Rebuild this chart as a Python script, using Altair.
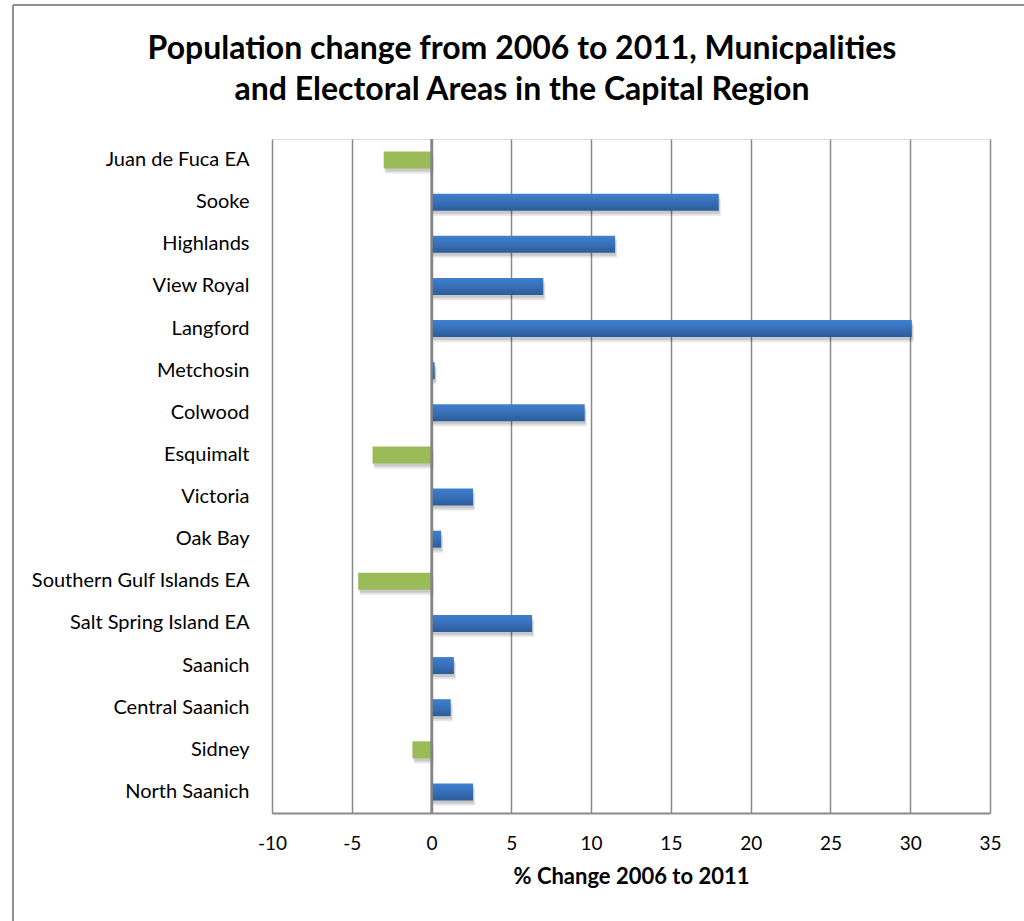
import altair as alt
import pandas as pd

# Municipalities and electoral areas, listed top to bottom
places = [
    "Juan de Fuca EA", "Sooke", "Highlands", "View Royal", "Langford",
    "Metchosin", "Colwood", "Esquimalt", "Victoria", "Oak Bay",
    "Southern Gulf Islands EA", "Salt Spring Island EA", "Saanich",
    "Central Saanich", "Sidney", "North Saanich",
]
# Percent population change, 2006 to 2011
pct_change = [
    -3.0, 18.0, 11.5, 7.0, 30.1,
    0.2, 9.6, -3.7, 2.6, 0.6,
    -4.6, 6.3, 1.4, 1.2, -1.2, 2.6,
]
x_ticks = [-10, -5, 0, 5, 10, 15, 20, 25, 30, 35]
title_lines = [
    "Population change from 2006 to 2011, Municpalities",
    "and Electoral Areas in the Capital Region",
]

df = pd.DataFrame({"place": places, "change": pct_change})

FONT = "Lato"
GRID = "#8a8a8a"
W, H = 718, 674
PAD_L, PAD_T = 272, 139

x_scale = alt.Scale(domain=[-10, 35], nice=False, zero=True)
y_scale = alt.Scale(paddingInner=0.6, paddingOuter=0.3)

x_enc = alt.X(
    "change:Q", scale=x_scale,
    axis=alt.Axis(
        values=x_ticks, title="% Change 2006 to 2011", grid=True,
        gridColor=GRID, gridWidth=1.5, domainColor=GRID, domainWidth=2,
        ticks=False, labelPadding=21, labelFontSize=19, labelFont=FONT,
        labelExpr="'' + datum.value", labelFlush=False,
        labelColor="#000", titleFont=FONT, titleFontSize=22,
        titleFontWeight="bold", titleColor="#000", titlePadding=13,
    ),
)
y_enc = alt.Y(
    "place:N", sort=places, scale=y_scale,
    axis=alt.Axis(
        title=None, domain=False, ticks=False, labelPadding=23,
        labelFontSize=20, labelFont=FONT, labelColor="#000", labelLimit=400,
    ),
)

base = alt.Chart(df)

shadow_far = base.mark_bar(color="#000", opacity=0.10, yOffset=5, xOffset=2, height=17).encode(x=x_enc, y=y_enc)
shadow_near = base.mark_bar(color="#000", opacity=0.12, yOffset=3, xOffset=1, height=17).encode(x=x_enc, y=y_enc)

blue_fill = alt.Gradient(
    gradient="linear", x1=0, x2=0, y1=0, y2=1,
    stops=[
        alt.GradientStop(offset=0, color="#3f80cf"),
        alt.GradientStop(offset=0.5, color="#376fb8"),
        alt.GradientStop(offset=1, color="#2c5c98"),
    ],
)

gains = base.transform_filter("datum.change >= 0").mark_bar(
    color=blue_fill, height=17
).encode(x=x_enc, y=y_enc)

losses = base.transform_filter("datum.change < 0").mark_bar(
    color="#9bbb59", height=17
).encode(x=x_enc, y=y_enc)

zero_line = alt.Chart(alt.Data(values=[{"v": 0}])).mark_rule(
    color="#858585", strokeWidth=2.5
).encode(x=alt.X("v:Q", scale=x_scale))

single = alt.Data(values=[{}])

# Two-line heading, centred over the whole figure
heading = alt.Chart(single).mark_text(
    font=FONT, fontSize=32, fontWeight="bold", color="#000",
    align="center", baseline="alphabetic", lineHeight=41,
).encode(
    x=alt.value(522 - PAD_L), y=alt.value(59 - PAD_T), text=alt.value(title_lines)
)

# Thin frame around the whole figure (left and top edges)
frame_left = alt.Chart(single).mark_rule(color="#8f8f8f", strokeWidth=2).encode(
    x=alt.value(13 - PAD_L), y=alt.value(5 - PAD_T), y2=alt.value(921 - PAD_T + 10)
)
frame_top = alt.Chart(single).mark_rule(color="#8f8f8f", strokeWidth=2).encode(
    y=alt.value(5 - PAD_T), x=alt.value(13 - PAD_L), x2=alt.value(1024 - PAD_L + 10)
)

chart = alt.layer(
    shadow_far, shadow_near, gains, losses, zero_line,
    heading, frame_left, frame_top,
).properties(
    width=W,
    height=H,
    autosize=alt.AutoSizeParams(type="none"),
    padding={"left": PAD_L, "top": PAD_T, "right": 1024 - PAD_L - W, "bottom": 921 - PAD_T - H},
).configure_view(stroke=None).configure(background="white")

chart.save("out.html", embed_options={"renderer": "svg", "actions": False})
